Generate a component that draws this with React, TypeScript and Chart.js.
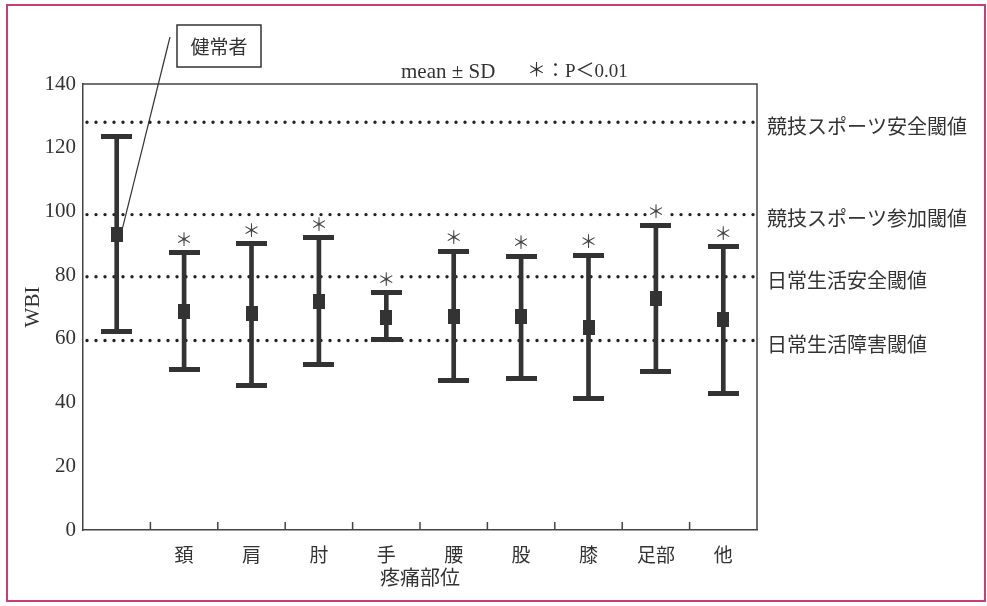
import { useEffect, useRef } from 'react';
import { Chart, registerables } from 'chart.js';

Chart.register(...registerables);

// ---- data ----
const categories = ['', '頚', '肩', '肘', '手', '腰', '股', '膝', '足部', '他'];
const meanValues = [92.8, 68.5, 67.9, 71.6, 66.7, 67.1, 66.9, 63.7, 72.6, 66.0];
const upperValues = [123.4, 87.0, 89.8, 91.7, 74.4, 87.5, 85.9, 86.3, 95.6, 88.9]; // mean + SD
const lowerValues = [62.2, 50.3, 45.4, 52.1, 59.7, 46.9, 47.7, 41.2, 49.8, 42.8]; // mean - SD
const significant = [false, true, true, true, true, true, true, true, true, true];
const thresholdValues = [128, 99, 79.5, 59.5];
const thresholdLabels = ['競技スポーツ安全閾値', '競技スポーツ参加閾値', '日常生活安全閾値', '日常生活障害閾値'];
const yMin = 0;
const yMax = 140;
const yStep = 20;
const healthyLabel = '健常者';
const noteLeft = 'mean ± SD';
const noteRight = '＊：P＜0.01';
const xTitle = '疼痛部位';
const yTitle = 'WBI';

const INK = '#333333';
const CJK = "'Noto Sans CJK JP', sans-serif";
const SERIF = "'Liberation Serif', 'Noto Sans CJK JP', serif";

function makeRectCanvas(w: number, h: number, color: string) {
  const c = document.createElement('canvas');
  c.width = w;
  c.height = h;
  const g = c.getContext('2d')!;
  g.fillStyle = color;
  g.fillRect(0, 0, w, h);
  return c;
}

export default function App() {
  const ref = useRef<HTMLCanvasElement | null>(null);

  useEffect(() => {
    if (!ref.current) return;
    const capImg = makeRectCanvas(31, 5, INK);
    const meanImg = makeRectCanvas(12, 15, INK);

    const decor = {
      id: 'decor',
      beforeDatasetsDraw(chart: any) {
        const { ctx, chartArea } = chart;
        const y = chart.scales.y;
        ctx.save();
        ctx.strokeStyle = '#222';
        ctx.lineWidth = 3.4;
        ctx.lineCap = 'round';
        ctx.setLineDash([0, 9]);
        thresholdValues.forEach((v) => {
          const py = y.getPixelForValue(v);
          ctx.beginPath();
          ctx.moveTo(chartArea.left + 4, py);
          ctx.lineTo(chartArea.right - 2, py);
          ctx.stroke();
        });
        ctx.restore();
      },
      afterDraw(chart: any) {
        const { ctx, chartArea } = chart;
        const x = chart.scales.x;
        const y = chart.scales.y;
        ctx.save();
        // frame top/right
        ctx.strokeStyle = '#444';
        ctx.lineWidth = 1.5;
        ctx.beginPath();
        ctx.moveTo(chartArea.left, chartArea.top);
        ctx.lineTo(chartArea.right, chartArea.top);
        ctx.lineTo(chartArea.right, chartArea.bottom);
        ctx.stroke();
        // x ticks between categories, pointing inward
        for (let i = 0; i < categories.length - 1; i++) {
          const px = (x.getPixelForValue(i) + x.getPixelForValue(i + 1)) / 2;
          ctx.beginPath();
          ctx.moveTo(px, chartArea.bottom);
          ctx.lineTo(px, chartArea.bottom - 8);
          ctx.stroke();
        }
        // asterisks
        ctx.font = `18px ${CJK}`;
        ctx.textAlign = 'center';
        ctx.textBaseline = 'middle';
        significant.forEach((s, i) => {
          if (!s) return;
          const px = x.getPixelForValue(i);
          const py = y.getPixelForValue(upperValues[i]) - 14;
          ctx.fillStyle = '#fff';
          ctx.fillRect(px - 9, py - 7, 18, 14);
          ctx.fillStyle = '#444';
          ctx.fillText('＊', px, py);
        });
        // threshold labels
        ctx.fillStyle = INK;
        ctx.font = `20px ${CJK}`;
        ctx.textAlign = 'left';
        thresholdValues.forEach((v, i) => {
          ctx.fillText(thresholdLabels[i], chartArea.right + 10, y.getPixelForValue(v) + 4);
        });
        // note at top
        ctx.font = `21px ${SERIF}`;
        ctx.fillText(noteLeft, 401, 72);
        ctx.font = `19px ${SERIF}`;
        ctx.fillText(noteRight, 527, 72);
        // healthy label box and leader line
        ctx.strokeStyle = INK;
        ctx.lineWidth = 1.5;
        ctx.strokeRect(177, 25, 84, 42);
        ctx.font = `19px ${CJK}`;
        ctx.textAlign = 'center';
        ctx.fillText(healthyLabel, 219, 47);
        ctx.lineWidth = 1.2;
        ctx.beginPath();
        ctx.moveTo(170, 37);
        ctx.lineTo(x.getPixelForValue(0) + 6, y.getPixelForValue(meanValues[0]) - 7);
        ctx.stroke();
        // outer pink frame
        ctx.strokeStyle = '#c63d78';
        ctx.lineWidth = 2;
        ctx.strokeRect(7, 5, 978, 596);
        ctx.restore();
      },
    };

    const chart = new Chart(ref.current, {
      type: 'bar',
      data: {
        labels: categories,
        datasets: [
          {
            type: 'bar',
            data: categories.map((_, i) => [lowerValues[i], upperValues[i]]) as any,
            backgroundColor: INK,
            barThickness: 4,
            order: 3,
          },
          {
            type: 'line',
            data: upperValues,
            showLine: false,
            pointStyle: capImg as any,
            order: 2,
          },
          {
            type: 'line',
            data: lowerValues,
            showLine: false,
            pointStyle: capImg as any,
            order: 2,
          },
          {
            type: 'line',
            data: meanValues,
            showLine: false,
            pointStyle: meanImg as any,
            order: 1,
          },
        ],
      },
      options: {
        animation: false,
        responsive: false,
        events: [],
        layout: { padding: { top: 84, right: 230, left: 0, bottom: 0 } },
        plugins: { legend: { display: false }, tooltip: { enabled: false } },
        scales: {
          x: {
            grid: { display: false, drawTicks: false },
            border: { display: true, color: '#444', width: 1.5 },
            ticks: { font: { family: CJK, size: 19 }, color: INK, padding: 13, maxRotation: 0 },
            title: {
              display: true,
              text: xTitle,
              font: { family: CJK, size: 20 },
              color: INK,
              padding: { top: 0, bottom: 17 },
            },
            afterFit: (s: any) => {
              s.height = 76;
            },
          },
          y: {
            min: yMin,
            max: yMax,
            grid: { display: false, drawTicks: false },
            border: { display: true, color: '#444', width: 1.5 },
            ticks: { stepSize: yStep, font: { family: SERIF, size: 21 }, color: INK, padding: 7 },
            title: {
              display: true,
              text: yTitle,
              font: { family: SERIF, size: 21 },
              color: INK,
              padding: { top: 21, bottom: 0 },
            },
            afterFit: (s: any) => {
              s.width = 83;
            },
          },
        },
      },
      plugins: [decor],
    });
    return () => chart.destroy();
  }, []);

  return (
    <div style={{ position: 'absolute', left: 0, top: 0, width: 987, height: 606, background: '#fff' }}>
      <canvas ref={ref} width={987} height={606} style={{ display: 'block' }} />
    </div>
  );
}
